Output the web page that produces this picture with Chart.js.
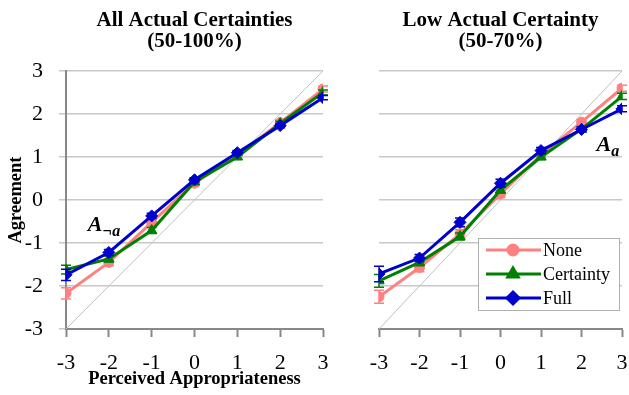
<!DOCTYPE html>
<html>
<head>
<meta charset="utf-8">
<script src="https://cdn.jsdelivr.net/npm/chart.js@4"></script>
<style>
  body { margin: 0; background: #fff; }
  #wrap { position: relative; width: 629px; height: 395px; }
  #leftBox { position: absolute; left: 0; top: 0; width: 330px; height: 395px; }
  #rightBox { position: absolute; left: 330px; top: 0; width: 299px; height: 395px; }
</style>
</head>
<body>
<div id="wrap">
  <div id="leftBox"><canvas id="leftChart"></canvas></div>
  <div id="rightBox"><canvas id="rightChart"></canvas></div>
</div>
<script>
// perceived appropriateness categories (x)
const appropriateness = [-3, -2, -1, 0, 1, 2, 3];
const seriesNames = ['None', 'Certainty', 'Full'];

// All actual certainties (50-100%)
const allNone = [-2.17, -1.45, -0.52, 0.39, 1.05, 1.80, 2.58];
const allCertainty = [-1.62, -1.37, -0.71, 0.42, 1.00, 1.78, 2.50];
const allFull = [-1.74, -1.22, -0.37, 0.47, 1.10, 1.73, 2.38];
const allNoneErr = [0.13, 0.08, 0.07, 0.06, 0.05, 0.06, 0.07];
const allCertaintyErr = [0.10, 0.07, 0.07, 0.06, 0.05, 0.05, 0.06];
const allFullErr = [0.13, 0.07, 0.06, 0.05, 0.05, 0.05, 0.05];

// Low actual certainty (50-70%)
const lowNone = [-2.25, -1.57, -0.79, 0.14, 1.05, 1.81, 2.60];
const lowCertainty = [-1.88, -1.45, -0.85, 0.23, 1.00, 1.65, 2.41];
const lowFull = [-1.72, -1.35, -0.52, 0.39, 1.15, 1.64, 2.12];
const lowNoneErr = [0.15, 0.10, 0.10, 0.08, 0.06, 0.06, 0.07];
const lowCertaintyErr = [0.15, 0.08, 0.08, 0.07, 0.06, 0.06, 0.07];
const lowFullErr = [0.18, 0.08, 0.10, 0.09, 0.07, 0.06, 0.07];

const FONT = '"Liberation Serif", "Times New Roman", serif';
Chart.defaults.font.family = FONT;
Chart.defaults.color = '#000';

const colors = { None: '#ff8080', Certainty: '#008000', Full: '#0000cc' };
const markers = { None: 'circle', Certainty: 'triangle', Full: 'rectRot' };
const radii = { None: 5, Certainty: 6, Full: 6 };
const drawOrder = { None: 3, Certainty: 2, Full: 1 };

function pts(vals) {
  return appropriateness.map((x, i) => ({ x: x, y: vals[i] }));
}

function series(name, vals, errs) {
  return {
    label: name,
    data: pts(vals),
    errors: errs,
    borderColor: colors[name],
    backgroundColor: colors[name],
    borderWidth: 3,
    pointStyle: markers[name],
    pointRadius: radii[name],
    pointBorderWidth: 1,
    tension: 0,
    order: drawOrder[name]
  };
}

function diagonal() {
  const lo = appropriateness[0], hi = appropriateness[appropriateness.length - 1];
  return {
    label: 'y=x',
    data: [{ x: lo, y: lo }, { x: hi, y: hi }],
    borderColor: '#c0c0c0',
    borderWidth: 1,
    pointRadius: 0,
    order: 9
  };
}

// two-line bold title centred over the plot area
const panelTitle = {
  id: 'panelTitle',
  afterDraw(chart, args, opts) {
    const ctx = chart.ctx, a = chart.chartArea;
    const cx = (a.left + a.right) / 2;
    ctx.save();
    ctx.font = 'bold 21px ' + FONT;
    ctx.fillStyle = '#000';
    ctx.textAlign = 'center';
    ctx.textBaseline = 'alphabetic';
    ctx.fillText(opts.lines[0], cx, 26);
    ctx.fillText(opts.lines[1], cx, 47);
    ctx.restore();
  }
};

// error bars drawn just before each series' own line
const errorBars = {
  id: 'errorBars',
  beforeDatasetDraw(chart, args) {
    const ds = chart.data.datasets[args.index];
    if (!ds.errors) return;
    const ctx = chart.ctx, xs = chart.scales.x, ys = chart.scales.y;
    ctx.save();
    ctx.strokeStyle = ds.borderColor;
    ctx.lineWidth = 1.5;
    ds.data.forEach((p, i) => {
      const e = ds.errors[i];
      const px = xs.getPixelForValue(p.x);
      const top = ys.getPixelForValue(p.y + e);
      const bot = ys.getPixelForValue(p.y - e);
      ctx.beginPath();
      ctx.moveTo(px, top); ctx.lineTo(px, bot);
      ctx.moveTo(px - 5, top); ctx.lineTo(px + 5, top);
      ctx.moveTo(px - 5, bot); ctx.lineTo(px + 5, bot);
      ctx.stroke();
    });
    ctx.restore();
  }
};

// italic "A" labels with subscripts
const areaLabels = {
  id: 'areaLabels',
  afterDraw(chart, args, opts) {
    const ctx = chart.ctx, xs = chart.scales.x, ys = chart.scales.y;
    ctx.save();
    ctx.fillStyle = '#000';
    ctx.textBaseline = 'alphabetic';
    ctx.textAlign = 'left';
    (opts.items || []).forEach(it => {
      const px = xs.getPixelForValue(it.x), py = ys.getPixelForValue(it.y);
      ctx.font = 'bold italic 22px ' + FONT;
      ctx.fillText('A', px, py);
      const w = ctx.measureText('A').width;
      ctx.font = 'bold italic 16px ' + FONT;
      ctx.fillText(it.sub, px + w, py + 5);
    });
    ctx.restore();
  }
};

// boxed legend inside the right panel
const boxLegend = {
  id: 'boxLegend',
  afterDraw(chart, args, opts) {
    if (!opts.show) return;
    const ctx = chart.ctx;
    const bx = 148, by = 238, bw = 141, bh = 72;
    ctx.save();
    ctx.fillStyle = '#fff';
    ctx.fillRect(bx, by, bw, bh);
    ctx.strokeStyle = '#b0b0b0';
    ctx.lineWidth = 1;
    ctx.strokeRect(bx + 0.5, by + 0.5, bw, bh);
    seriesNames.forEach((name, i) => {
      const y = by + 12 + i * 24;
      ctx.strokeStyle = colors[name];
      ctx.lineWidth = 3;
      ctx.beginPath();
      ctx.moveTo(bx + 8, y); ctx.lineTo(bx + 63, y);
      ctx.stroke();
      ctx.fillStyle = colors[name];
      Chart.helpers.drawPoint(ctx, { pointStyle: markers[name], radius: radii[name], rotation: 0, borderWidth: 1 }, bx + 35, y);
      ctx.fill();
      ctx.fillStyle = '#000';
      ctx.font = '18px ' + FONT;
      ctx.textBaseline = 'middle';
      ctx.textAlign = 'left';
      ctx.fillText(name, bx + 65, y + 1);
    });
    ctx.restore();
  }
};

function makeChart(canvasId, title, datasets, showYAxis, labels, showLegend) {
  return new Chart(document.getElementById(canvasId), {
    type: 'line',
    data: { datasets: datasets },
    plugins: [panelTitle, errorBars, areaLabels, boxLegend],
    options: {
      responsive: true,
      maintainAspectRatio: false,
      animation: false,
      events: [],
      layout: { padding: { top: 71, right: 2, bottom: 0, left: 0 } },
      plugins: {
        legend: { display: false },
        tooltip: { enabled: false },
        panelTitle: { lines: title },
        areaLabels: { items: labels },
        boxLegend: { show: showLegend }
      },
      scales: {
        x: {
          type: 'linear',
          min: -3, max: 3,
          afterFit: s => { s.height = 66; s.paddingLeft = 0; s.paddingRight = 0; },
          ticks: { stepSize: 1, padding: 13, font: { size: 22 }, color: '#000' },
          grid: { drawOnChartArea: false, drawTicks: true, tickLength: 8, tickColor: '#888', tickWidth: 2 },
          border: { color: '#888', width: 2 },
          title: {
            display: showYAxis,
            text: 'Perceived Appropriateness',
            font: { size: 18.5, weight: 'bold' },
            color: '#000',
            padding: { top: 0, bottom: 5 }
          }
        },
        y: {
          min: -3, max: 3,
          afterFit: s => { s.width = showYAxis ? 66 : 49; s.paddingTop = 0; s.paddingBottom = 0; },
          ticks: { stepSize: 1, display: showYAxis, padding: 16, font: { size: 22 }, color: '#000' },
          grid: { color: '#c8c8c8', lineWidth: 1.5, drawTicks: showYAxis, tickLength: 7 },
          border: { display: showYAxis, color: '#888', width: 2 },
          title: {
            display: showYAxis,
            text: 'Agreement',
            font: { size: 18.5, weight: 'bold' },
            color: '#000',
            padding: { top: 5, bottom: 0 }
          }
        }
      }
    }
  });
}

makeChart('leftChart', ['All Actual Certainties', '(50-100%)'], [
  series('None', allNone, allNoneErr),
  series('Certainty', allCertainty, allCertaintyErr),
  series('Full', allFull, allFullErr),
  diagonal()
], true, [{ x: -2.49, y: -0.73, sub: '\u00aca' }], false);

makeChart('rightChart', ['Low Actual Certainty', '(50-70%)'], [
  series('None', lowNone, lowNoneErr),
  series('Certainty', lowCertainty, lowCertaintyErr),
  series('Full', lowFull, lowFullErr),
  diagonal()
], false, [{ x: 2.37, y: 1.13, sub: 'a' }], true);
</script>
</body>
</html>
